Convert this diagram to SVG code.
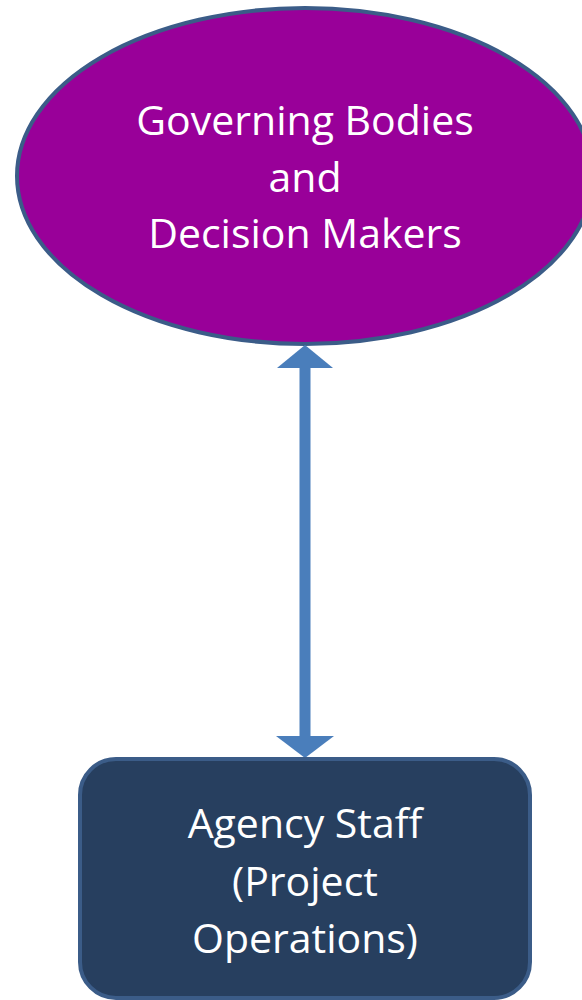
<svg xmlns="http://www.w3.org/2000/svg" width="582" height="1000" viewBox="0 0 582 1000">
<style>
.lbl{font-family:"Open Sans","Noto Sans","Liberation Sans",sans-serif;font-size:41px;fill:#ffffff;text-anchor:middle}
.conn{fill:#4a7ebb}
</style>
<rect width="582" height="1000" fill="#ffffff"/>
<g id="node-governing">
<ellipse cx="305" cy="176" rx="288" ry="168" fill="#990099" stroke="#3b5c88" stroke-width="4"/>
<text class="lbl" x="305" y="135">Governing Bodies</text>
<text class="lbl" x="305" y="192">and</text>
<text class="lbl" x="305" y="248">Decision Makers</text>
</g>
<g id="connectors">
<rect class="conn" x="299.5" y="366" width="11" height="372"/>
<polygon class="conn" points="305,345 333,368 277,368"/>
<polygon class="conn" points="305,758 334,736 276,736"/>
</g>
<g id="node-agency">
<rect x="80" y="759" width="450" height="239" rx="36" ry="36" fill="#273f5f" stroke="#3b5c88" stroke-width="4"/>
<text class="lbl" x="305" y="838">Agency Staff</text>
<text class="lbl" x="305" y="896">(Project</text>
<text class="lbl" x="305" y="953">Operations)</text>
</g>
</svg>
